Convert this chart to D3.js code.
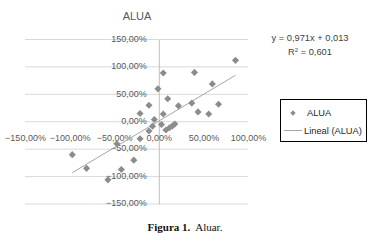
<!DOCTYPE html>
<html>
<head>
<meta charset="utf-8">
<script src="https://cdn.jsdelivr.net/npm/d3@7"></script>
<style>
  body { margin: 0; background: #fff; }
  svg { display: block; font-family: "Liberation Sans", Arial, sans-serif; }
</style>
</head>
<body>
<script>
// data (percent values)
const xValues = [86, 5, 40, 60, -1, 10, -11, 22, 37, 67, 44, 56, -21, 5, -5, -7, 3, -11, 8, 12, 15, 18, -21, -47, -97, -81, -57, -42, -28]
const yValues = [112, 89, 90, 69, 60, 42, 30, 29, 34, 32, 18, 14, 15, 14, 4, -8, -5, -17, -15, -11, -8, -4, -31, -40, -60, -85, -106, -87, -70]
const xTicks = [-150, -100, -50, 0, 50, 100]
const yTicks = [-150, -100, -50, 0, 50, 100, 150]
const slope = 0.971
const intercept = 1.3 // 0,013 in percent
const title = 'ALUA'
const seriesName = 'ALUA'
const trendName = 'Lineal (ALUA)'
const equation = 'y = 0,971x + 0,013'

const dataset = xValues.map((x, i) => ({ x: x, y: yValues[i] }))

const width = 369
const height = 243
const textColor = '#595959'
const pointColor = '#8c8c8c'

const locale = d3.formatLocale({ decimal: ',', thousands: '.', grouping: [3], currency: ['', ''], minus: '\u2212' })
const pct = d => locale.format('.2f')(d) + '%'

const svg = d3.select('body')
  .append('svg')
  .attr('width', width)
  .attr('height', height)

// scales
const xScale = d3.scaleLinear()
  .domain([-150, 100])
  .range([25, 248])
const yScale = d3.scaleLinear()
  .domain([-150, 150])
  .range([204, 39.5])

// gridlines
svg.append('g')
  .selectAll('line')
  .data(yTicks)
  .enter()
  .append('line')
  .attr('x1', xScale(-150))
  .attr('x2', xScale(100))
  .attr('y1', d => yScale(d))
  .attr('y2', d => yScale(d))
  .attr('stroke', '#d9d9d9')
  .attr('stroke-width', 1)

// y axis (vertical line at x = 0)
const yAxis = svg.append('g')
  .attr('transform', `translate(${xScale(0)}, 0)`)
  .call(d3.axisLeft(yScale).tickValues(yTicks).tickSize(0).tickPadding(12).tickFormat(pct))
yAxis.select('.domain').attr('stroke', '#bfbfbf')
yAxis.selectAll('text')
  .attr('fill', textColor)
  .attr('font-size', 9)
  .attr('font-family', '"Liberation Sans", Arial, sans-serif')
  .attr('dy', '0.2em')

// x axis labels
const xAxis = svg.append('g')
  .attr('transform', `translate(0, ${yScale(0)})`)
  .call(d3.axisBottom(xScale).tickValues(xTicks).tickSize(0).tickPadding(13).tickFormat(pct))
xAxis.select('.domain').remove()
xAxis.selectAll('text')
  .attr('fill', textColor)
  .attr('font-size', 9)
  .attr('font-family', '"Liberation Sans", Arial, sans-serif')

// trend line
const [xMin, xMax] = d3.extent(xValues)
const trend = [xMin, xMax].map(x => ({ x: x, y: slope * x + intercept }))
svg.append('path')
  .datum(trend)
  .attr('d', d3.line().x(d => xScale(d.x)).y(d => yScale(d.y)))
  .attr('stroke', '#a6a6a6')
  .attr('stroke-width', 1)
  .attr('fill', 'none')

// points (diamond markers)
const diamond = d3.symbol().type(d3.symbolDiamond2).size(32)
svg.append('g')
  .selectAll('path')
  .data(dataset)
  .enter()
  .append('path')
  .attr('d', diamond)
  .attr('transform', d => `translate(${xScale(d.x)}, ${yScale(d.y)})`)
  .attr('fill', pointColor)

// title
svg.append('text')
  .attr('x', 137)
  .attr('y', 20)
  .attr('text-anchor', 'middle')
  .attr('font-size', 11)
  .attr('fill', textColor)
  .text(title)

// equation
const eq = svg.append('text')
  .attr('text-anchor', 'middle')
  .attr('font-size', 9.3)
  .attr('fill', '#404040')
eq.append('tspan').attr('x', 310).attr('y', 41).text(equation)
const r2 = eq.append('tspan').attr('x', 310).attr('y', 55)
r2.append('tspan').text('R')
r2.append('tspan').attr('font-size', 6).attr('dy', -3.5).text('2')
r2.append('tspan').attr('dy', 3.5).text(' = 0,601')

// legend
const legend = svg.append('g')
legend.append('rect')
  .attr('x', 280.5)
  .attr('y', 99.5)
  .attr('width', 86)
  .attr('height', 42)
  .attr('fill', '#fff')
  .attr('stroke', '#000')
  .attr('stroke-width', 1)
legend.append('path')
  .attr('d', d3.symbol().type(d3.symbolDiamond2).size(18))
  .attr('transform', 'translate(293, 113)')
  .attr('fill', pointColor)
legend.append('line')
  .attr('x1', 284)
  .attr('x2', 302)
  .attr('y1', 130.5)
  .attr('y2', 130.5)
  .attr('stroke', '#a6a6a6')
legend.append('text')
  .attr('x', 307)
  .attr('y', 116)
  .attr('font-size', 9.3)
  .attr('fill', '#262626')
  .text(seriesName)
legend.append('text')
  .attr('x', 304)
  .attr('y', 134)
  .attr('font-size', 9.3)
  .attr('fill', '#262626')
  .text(trendName)

// caption
const cap = svg.append('text')
  .attr('x', 185)
  .attr('y', 231)
  .attr('text-anchor', 'middle')
  .attr('font-size', 11)
  .attr('font-family', '"Liberation Serif", "DejaVu Serif", serif')
  .attr('fill', '#111')
cap.append('tspan').attr('font-weight', 'bold').text('Figura 1.')
cap.append('tspan').text('\u00a0 Aluar.')
</script>
</body>
</html>
